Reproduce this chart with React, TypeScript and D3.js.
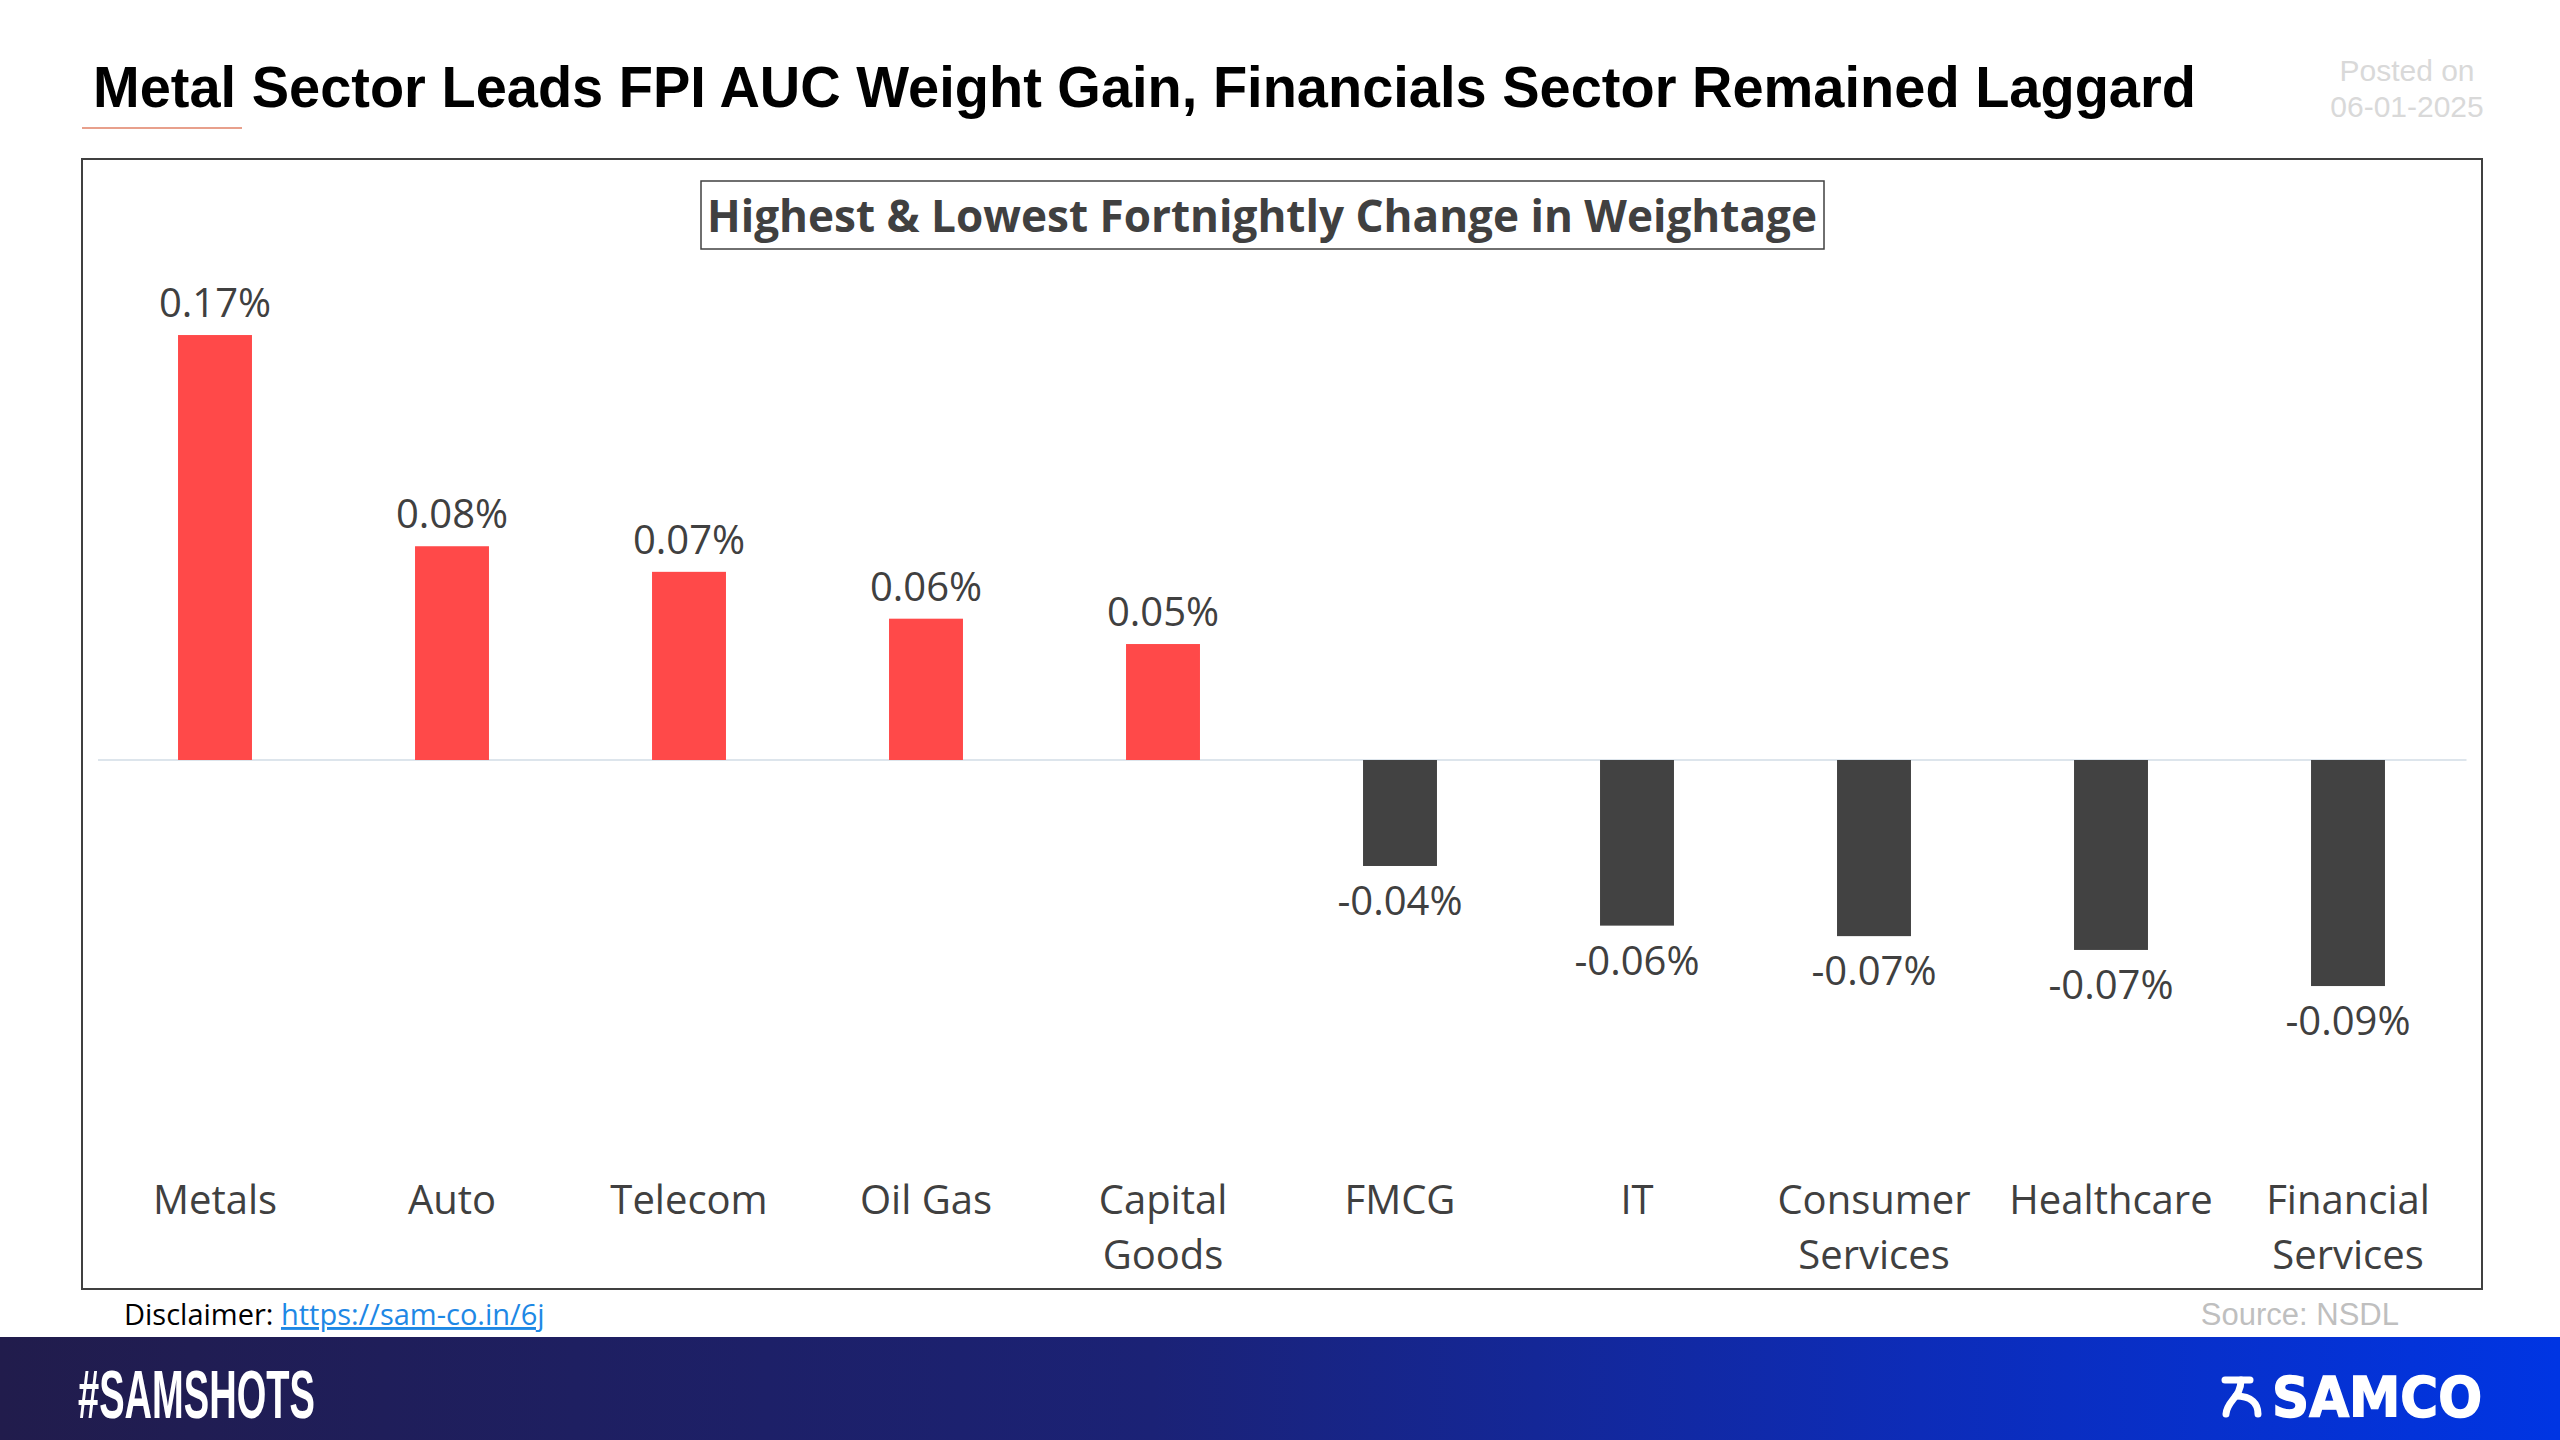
import React from "react";
import * as d3 from "d3";

const categories = ["Metals", "Auto", "Telecom", "Oil Gas", "Capital Goods", "FMCG", "IT", "Consumer Services", "Healthcare", "Financial Services"];
const categoryLabels = ["Metals", "Auto", "Telecom", "Oil Gas", "Capital\nGoods", "FMCG", "IT", "Consumer\nServices", "Healthcare", "Financial\nServices"];
const changeValues = [0.166, 0.0835, 0.0735, 0.0552, 0.0453, -0.0414, -0.0647, -0.0688, -0.0742, -0.0883];

const titleText = "Metal Sector Leads FPI AUC Weight Gain, Financials Sector Remained Laggard";
const subtitleText = "Highest & Lowest Fortnightly Change in Weightage";
const postedLines = ["Posted on", "06-01-2025"];
const disclaimerLabel = "Disclaimer: ";
const disclaimerLink = "https://sam-co.in/6j";
const sourceText = "Source: NSDL";
const hashtagText = "#SAMSHOTS";
const brandText = "SAMCO";

const W = 2560;
const H = 1440;
const plotLeft = 96.5;
const plotRight = 2466.5;
const plotTop = 324.8;
const plotBottom = 1067.2;

const POS = "#FF4949";
const NEG = "#424242";
const TXT = "#404040";
const CAL = "'Open Sans', 'Noto Sans', sans-serif";
const ARIAL = "'Liberation Sans', Arial, sans-serif";

export default function App() {
  const x = d3.scaleBand<string>().domain(categories).range([plotLeft, plotRight]).paddingInner(0.688).paddingOuter(0.344);
  const y = d3.scaleLinear().domain([-0.12, 0.17]).range([plotBottom, plotTop]);
  const y0 = y(0);
  const fmt = (v: number) => v.toFixed(2) + "%";

  return (
    <svg width={W} height={H} viewBox={`0 0 ${W} ${H}`} style={{ position: "absolute", left: 0, top: 0, background: "#fff" }}>
      <defs>
        <linearGradient id="banner" x1="0" x2="1" y1="0" y2="0">
          <stop offset="0" stopColor="#211c4c" />
          <stop offset="0.45" stopColor="#1b2276" />
          <stop offset="0.75" stopColor="#0d2cb8" />
          <stop offset="1" stopColor="#0035e3" />
        </linearGradient>
      </defs>
      <rect x={0} y={0} width={W} height={H} fill="#fff" />

      {/* Title */}
      <text x={93} y={107} fontFamily={ARIAL} fontWeight="bold" fontSize={58} fill="#000" textLength={2103} lengthAdjust="spacingAndGlyphs">{titleText}</text>
      <line x1={82} x2={242} y1={128} y2={128} stroke="#e8a08c" strokeWidth={2} />
      {postedLines.map((t, i) => (
        <text key={t} x={2407} y={81 + i * 36} textAnchor="middle" fontFamily={ARIAL} fontSize={30} fill="#d9d9d9">{t}</text>
      ))}

      {/* Chart frame */}
      <rect x={82} y={159} width={2400} height={1130} fill="#fff" stroke="#404040" strokeWidth={2} />

      {/* Subtitle box */}
      <rect x={701} y={181} width={1123} height={68} fill="#fff" stroke="#404040" strokeWidth={1.5} />
      <text x={707} y={232} fontFamily={CAL} fontWeight="bold" fontSize={45} fill={TXT} textLength={1110} lengthAdjust="spacingAndGlyphs">{subtitleText}</text>

      {/* Zero line */}
      <line x1={plotLeft + 1.5} x2={plotRight} y1={y0} y2={y0} stroke="#dde5ec" strokeWidth={2} />

      {/* Bars */}
      {categories.map((c, i) => {
        const v = changeValues[i];
        const top = v >= 0 ? y(v) : y0;
        const h = Math.abs(y(v) - y0);
        return <rect key={c} x={x(c)} y={top} width={x.bandwidth()} height={h} fill={v >= 0 ? POS : NEG} />;
      })}

      {/* Data labels */}
      {categories.map((c, i) => {
        const v = changeValues[i];
        const cx = (x(c) as number) + x.bandwidth() / 2;
        const ty = v >= 0 ? y(v) - 18 : y(v) + 49;
        return (
          <text key={c} x={cx} y={ty} textAnchor="middle" fontFamily={CAL} fontSize={40} fill={TXT}>{fmt(v)}</text>
        );
      })}

      {/* Category labels */}
      {categories.map((c, i) => {
        const cx = (x(c) as number) + x.bandwidth() / 2;
        const lines = categoryLabels[i].split("\n");
        return (
          <text key={c} x={cx} y={1214} textAnchor="middle" fontFamily={CAL} fontSize={40} fill={TXT}>
            {lines.map((l, j) => (
              <tspan key={j} x={cx} dy={j === 0 ? 0 : 55}>{l}</tspan>
            ))}
          </text>
        );
      })}

      {/* Footer */}
      <text x={124} y={1325} fontFamily={CAL} fontSize={29} fill="#000">
        {disclaimerLabel}
        <tspan fill="#1e88e5" textDecoration="underline" style={{ textDecoration: "underline" }}>{disclaimerLink}</tspan>
      </text>
      <text x={2399} y={1325} textAnchor="end" fontFamily={ARIAL} fontSize={31} fill="#bfbfbf">{sourceText}</text>

      {/* Banner */}
      <rect x={0} y={1337} width={W} height={H - 1337} fill="url(#banner)" />
      <text x={78} y={1418} fontFamily={ARIAL} fontWeight="bold" fontSize={68} fill="#fff" textLength={237} lengthAdjust="spacingAndGlyphs">{hashtagText}</text>
      <g fill="none" stroke="#fff" strokeWidth={7} strokeLinecap="round">
        <path d="M2225,1380 L2250,1380" />
        <path d="M2241,1380 C2241,1398 2227,1400 2226,1414" />
        <path d="M2236,1396 C2252,1396 2258,1404 2258,1414" />
      </g>
      <text x={2272} y={1416} fontFamily="'DejaVu Sans', sans-serif" fontWeight="bold" fontSize={56} fill="#fff" stroke="#fff" strokeWidth={1.5} textLength={210} lengthAdjust="spacingAndGlyphs">{brandText}</text>
    </svg>
  );
}
